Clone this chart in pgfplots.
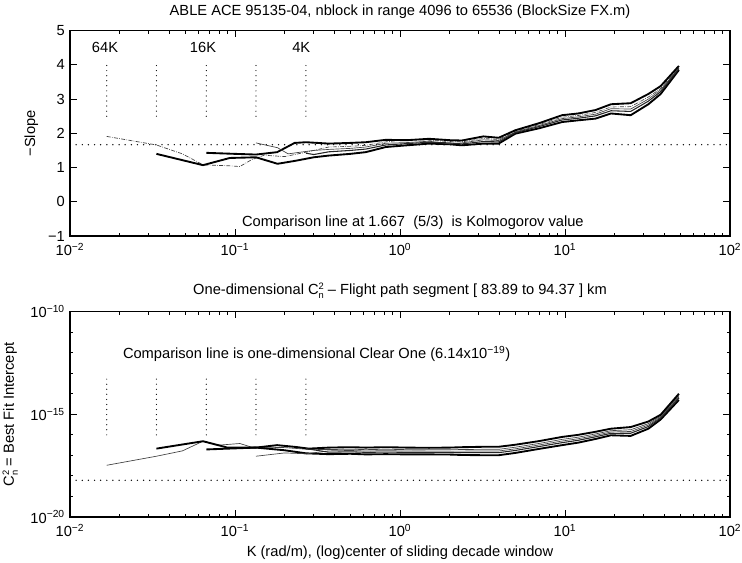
\documentclass[border=0pt]{standalone}
\usepackage{fontspec}
\setmainfont{Liberation Sans}
\usepackage{pgfplots}
\pgfplotsset{compat=1.18}
\tikzset{
  thk/.style={black, line width=1.4pt},
  thn/.style={black!75, line width=0.5pt},
  mdm/.style={black!85, line width=0.8pt},
  vdot/.style={black, line width=0.9pt, line cap=round, dash pattern=on 0pt off 3.8pt},
  hdot/.style={black, line width=1.1pt, line cap=round, dash pattern=on 0pt off 4.6pt},
}
\newcommand{\Cn}{C{\def\arraystretch{0.82}\scriptsize\begin{tabular}[c]{@{}l@{}}2\\n\end{tabular}}}
\begin{document}
\fontsize{11}{13}\selectfont
\begin{tikzpicture}
\useasboundingbox (0,0) rectangle (556.5pt,422.25pt);
% ---------------- top axis ----------------
\begin{axis}[at={(52.5pt,245.25pt)}, anchor=south west,
  scale only axis, width=495pt, height=154pt,
  xmode=log, xmin=0.01, xmax=100,
  xtick={0.01,0.1,1,10,100},
  xticklabels={10\textsuperscript{−2},10\textsuperscript{−1},10\textsuperscript{0},10\textsuperscript{1},10\textsuperscript{2}},
  xticklabel style={yshift=-1.5pt},
  minor xtick={0.02,0.03,0.04,0.05,0.06,0.07,0.08,0.09,0.2,0.3,0.4,0.5,0.6,0.7,0.8,0.9,2,3,4,5,6,7,8,9,20,30,40,50,60,70,80,90},
  axis line style={line width=1pt},
  major tick length=5pt, minor tick length=2.5pt,
  every tick/.style={black, line width=0.7pt},
  title style={yshift=-1pt},
  ymin=-1, ymax=5, ytick={-1,0,1,2,3,4,5},
  yticklabels={−1,0,1,2,3,4,5},
  ylabel={−Slope},
  title={ABLE ACE 95135-04, nblock in range 4096 to 65536 (BlockSize FX.m)}]
\addplot[vdot] coordinates {(0.0167,2.5) (0.0167,4)};
\addplot[vdot] coordinates {(0.0334,2.5) (0.0334,4)};
\addplot[vdot] coordinates {(0.0670,2.5) (0.0670,4)};
\addplot[vdot] coordinates {(0.134,2.5) (0.134,4)};
\addplot[vdot] coordinates {(0.269,2.5) (0.269,4)};
\addplot[hdot] coordinates {(0.01,1.667) (100,1.667)};
% 64K
\addplot[thn, densely dashdotted] coordinates {(0.0167,1.91) (0.0334,1.66) (0.048,1.40) (0.064,1.08) (0.093,1.05) (0.107,1.03) (0.125,1.22) (0.15,1.36) (0.2,1.32) (0.27,1.45)
 (0.37,1.60) (0.5,1.62) (0.62,1.65) (0.82,1.75) (1.1,1.82) (1.5,1.80) (2.0,1.76) (2.37,1.75) (3.2,1.85) (3.96,1.82) (5,2.06) (7,2.26) (9.6,2.47) (12,2.52) (15.3,2.61) (19,2.77) (25,2.78) (32,3.06) (38,3.31) (49,3.93)};
% 32K
\addplot[thk] coordinates {(0.0334,1.40) (0.064,1.07) (0.093,1.28) (0.134,1.30) (0.181,1.11) (0.234,1.20) (0.30,1.30)
 (0.37,1.35) (0.5,1.40) (0.62,1.45) (0.82,1.60) (1.1,1.65) (1.5,1.70) (2.0,1.68) (2.37,1.65) (3.2,1.70) (3.96,1.70) (5,1.99) (7,2.15) (9.6,2.33) (12,2.38) (15.3,2.43) (19,2.58) (25,2.53) (32,2.85) (38,3.15) (49,3.85)};
% 16K
\addplot[thk] coordinates {(0.067,1.43) (0.1,1.40) (0.134,1.38) (0.18,1.45) (0.23,1.72) (0.27,1.74)
 (0.37,1.70) (0.5,1.72) (0.62,1.74) (0.82,1.81) (1.1,1.80) (1.5,1.84) (2.0,1.80) (2.37,1.79) (3.2,1.91) (3.96,1.87) (5,2.09) (7,2.30) (9.6,2.53) (12,2.58) (15.3,2.68) (19,2.85) (25,2.88) (32,3.15) (38,3.38) (49,3.97)};
% 8K
\addplot[thn] coordinates {(0.134,1.72) (0.181,1.58) (0.21,1.40) (0.25,1.45) (0.30,1.50)
 (0.37,1.53) (0.5,1.56) (0.62,1.60) (0.82,1.71) (1.1,1.73) (1.5,1.77) (2.0,1.69) (2.37,1.72) (3.2,1.81) (3.96,1.79) (5,2.04) (7,2.23) (9.6,2.43) (12,2.48) (15.3,2.56) (19,2.72) (25,2.71) (32,3.00) (38,3.27) (49,3.91)};
% 4K
\addplot[mdm] coordinates {(0.269,1.42) (0.30,1.38)
 (0.37,1.46) (0.5,1.50) (0.62,1.54) (0.82,1.66) (1.1,1.70) (1.5,1.74) (2.0,1.72) (2.37,1.69) (3.2,1.76) (3.96,1.75) (5,2.02) (7,2.20) (9.6,2.39) (12,2.44) (15.3,2.51) (19,2.66) (25,2.64) (32,2.94) (38,3.22) (49,3.89)};
\node at (axis cs:0.0163,4.5) {64K};
\node at (axis cs:0.064,4.5) {16K};
\node at (axis cs:0.252,4.5) {4K};
\node[anchor=west] at (axis cs:0.1028,-0.6) {Comparison line at 1.667\ \ (5/3)\ \ is Kolmogorov value};
\end{axis}
% ---------------- bottom axis ----------------
\begin{axis}[at={(52.5pt,34.5pt)}, anchor=south west,
  scale only axis, width=495pt, height=154pt,
  xmode=log, xmin=0.01, xmax=100,
  xtick={0.01,0.1,1,10,100},
  xticklabels={10\textsuperscript{−2},10\textsuperscript{−1},10\textsuperscript{0},10\textsuperscript{1},10\textsuperscript{2}},
  xticklabel style={yshift=-1.5pt},
  minor xtick={0.02,0.03,0.04,0.05,0.06,0.07,0.08,0.09,0.2,0.3,0.4,0.5,0.6,0.7,0.8,0.9,2,3,4,5,6,7,8,9,20,30,40,50,60,70,80,90},
  axis line style={line width=1pt},
  major tick length=5pt, minor tick length=2.5pt,
  every tick/.style={black, line width=0.7pt},
  title style={yshift=-2pt},
  ymode=log, ymin=1e-20, ymax=1e-10,
  ytick={1e-20,1e-15,1e-10},
  yticklabels={10\textsuperscript{−20},10\textsuperscript{−15},10\textsuperscript{−10}},
  minor ytick={1e-19,1e-18,1e-17,1e-16,1e-14,1e-13,1e-12,1e-11},
  ylabel={\Cn{} = Best Fit Intercept},
  xlabel={K (rad/m), (log)center of sliding decade window},
  xlabel style={yshift=1pt},
  title={One-dimensional \Cn{} – Flight path segment [ 83.89 to 94.37 ] km}]
\addplot[vdot] coordinates {(0.0167,1e-16) (0.0167,5.4e-14)};
\addplot[vdot] coordinates {(0.0334,1e-16) (0.0334,5.4e-14)};
\addplot[vdot] coordinates {(0.0670,1e-16) (0.0670,5.4e-14)};
\addplot[vdot] coordinates {(0.134,1e-16) (0.134,5.4e-14)};
\addplot[vdot] coordinates {(0.269,1e-16) (0.269,5.4e-14)};
\addplot[hdot] coordinates {(0.01,6.14e-19) (100,6.14e-19)};
% 64K
\addplot[thn] coordinates {(0.0167,3.31e-18) (0.0334,9.12e-18) (0.048,1.66e-17) (0.064,4.90e-17) (0.08,3.16e-17) (0.107,3.80e-17) (0.125,2.57e-17) (0.2,2.40e-17) (0.27,2.00e-17)
 (0.37,1.92e-17) (0.5,2.01e-17) (0.62,1.91e-17) (0.82,1.99e-17) (1.1,1.91e-17) (1.5,1.88e-17) (2.0,1.90e-17) (2.37,1.93e-17) (3.2,1.98e-17) (3.96,1.98e-17) (5,2.51e-17) (7,3.85e-17) (9.6,6.03e-17) (12,7.69e-17) (15.3,1.11e-16) (19,1.60e-16) (25,1.78e-16) (32,3.51e-16) (38,8.15e-16) (49,8.13e-15)};
% 32K
\addplot[thk] coordinates {(0.0334,2.14e-17) (0.064,4.90e-17) (0.09,2.40e-17) (0.134,2.40e-17) (0.2,1.78e-17) (0.27,1.26e-17)
 (0.37,1.15e-17) (0.5,1.20e-17) (0.62,1.12e-17) (0.82,1.15e-17) (1.1,1.12e-17) (1.5,1.12e-17) (2.0,1.10e-17) (2.37,1.05e-17) (3.2,1.02e-17) (3.96,1.02e-17) (5,1.32e-17) (7,2.09e-17) (9.6,3.16e-17) (12,4.17e-17) (15.3,6.31e-17) (19,9.55e-17) (25,8.91e-17) (32,2.00e-16) (38,5.62e-16) (49,5.01e-15)};
% 16K
\addplot[thk] coordinates {(0.067,1.95e-17) (0.134,2.40e-17) (0.18,3.16e-17) (0.234,2.57e-17) (0.28,2.14e-17)
 (0.37,2.40e-17) (0.5,2.51e-17) (0.62,2.40e-17) (0.82,2.51e-17) (1.1,2.40e-17) (1.5,2.34e-17) (2.0,2.40e-17) (2.37,2.51e-17) (3.2,2.63e-17) (3.96,2.63e-17) (5,3.31e-17) (7,5.01e-17) (9.6,7.94e-17) (12,1.00e-16) (15.3,1.41e-16) (19,2.00e-16) (25,2.40e-16) (32,4.47e-16) (38,9.55e-16) (49,1.00e-14)};
% 8K
\addplot[thn] coordinates {(0.134,9.12e-18) (0.2,1.32e-17) (0.27,1.20e-17)
 (0.37,1.66e-17) (0.5,1.74e-17) (0.62,1.64e-17) (0.82,1.70e-17) (1.1,1.64e-17) (1.5,1.62e-17) (2.0,1.62e-17) (2.37,1.62e-17) (3.2,1.64e-17) (3.96,1.64e-17) (5,2.09e-17) (7,3.24e-17) (9.6,5.01e-17) (12,6.46e-17) (15.3,9.44e-17) (19,1.38e-16) (25,1.46e-16) (32,2.99e-16) (38,7.33e-16) (49,7.08e-15)};
% 4K
\addplot[mdm] coordinates {(0.269,2.14e-17)
 (0.37,1.43e-17) (0.5,1.50e-17) (0.62,1.41e-17) (0.82,1.45e-17) (1.1,1.41e-17) (1.5,1.40e-17) (2.0,1.39e-17) (2.37,1.36e-17) (3.2,1.36e-17) (3.96,1.36e-17) (5,1.74e-17) (7,2.72e-17) (9.6,4.17e-17) (12,5.42e-17) (15.3,8.04e-17) (19,1.19e-16) (25,1.20e-16) (32,2.54e-16) (38,6.59e-16) (49,6.17e-15)};
\node[anchor=west] at (axis cs:0.0195,9e-13) {Comparison line is one-dimensional Clear One (6.14x10\textsuperscript{−19})};
\end{axis}
\end{tikzpicture}
\end{document}
